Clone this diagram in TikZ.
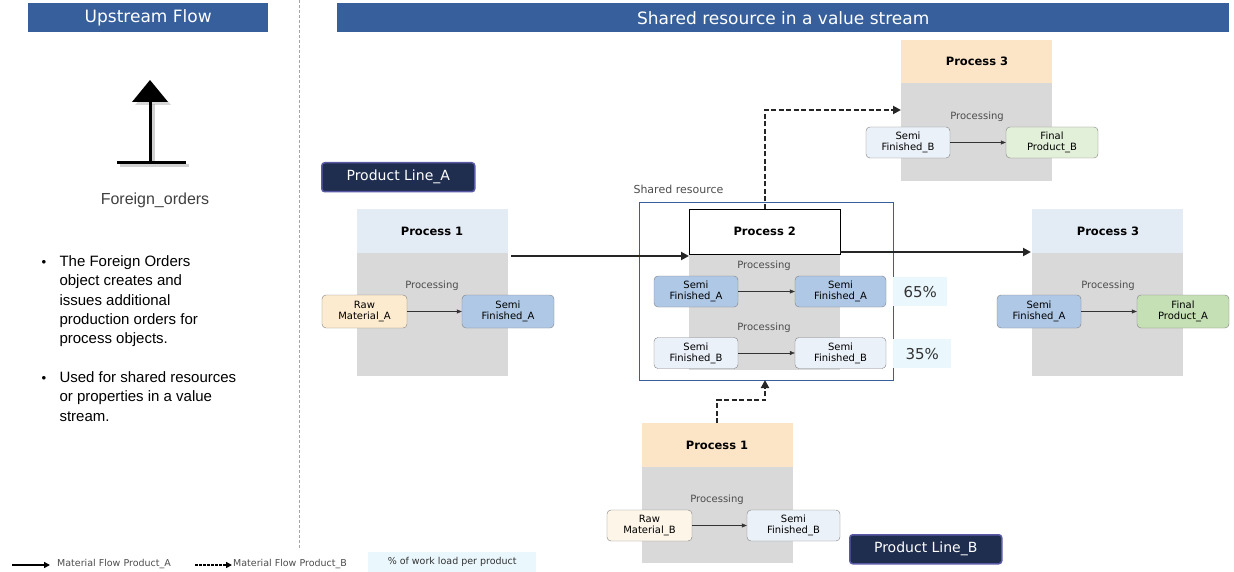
\documentclass[tikz,border=0pt]{standalone}
\usepackage{fontspec}
\setmainfont{DejaVu Sans}
\newfontfamily\arialf{Liberation Sans}
\usetikzlibrary{arrows.meta,shadows}
\definecolor{hdr}{HTML}{365F9C}
\definecolor{navy}{HTML}{1F2D4F}
\definecolor{phead}{HTML}{E3EBF5}
\definecolor{peach}{HTML}{FCE4C6}
\definecolor{pbody}{HTML}{D9D9D9}
\definecolor{semiA}{HTML}{AFC8E6}
\definecolor{semiB}{HTML}{EBF1F9}
\definecolor{rawA}{HTML}{FDEBD0}
\definecolor{rawB}{HTML}{FDF5E8}
\definecolor{finA}{HTML}{C5E0B4}
\definecolor{finB}{HTML}{E2F0D9}
\definecolor{pct}{HTML}{EAF7FD}
\tikzset{
 hdrbox/.style={fill=hdr,text=white,font=\fontsize{17}{19}\selectfont},
 item/.style={draw=gray,rounded corners=4pt,align=center,font=\fontsize{10}{11}\selectfont,inner sep=0pt},
 lbl/.style={font=\fontsize{10}{11}\selectfont,text=black!70},
 ttl/.style={font=\bfseries\fontsize{11.5}{12}\selectfont},
 pl/.style={fill=navy,draw=gray!70!blue,line width=1.5pt,rounded corners=3pt,text=white,font=\fontsize{14}{15}\selectfont},
 flowA/.style={line width=2.4pt,draw=black!85,-{Triangle[length=8pt,width=8pt]}},
 flowB/.style={line width=2.4pt,draw=black!85,dash pattern=on 5pt off 2.5pt,-{Triangle[length=8pt,width=8pt]}},
 thin/.style={draw=black!80,-{Triangle[length=5pt,width=4pt]}},
 pctb/.style={fill=pct,font=\fontsize{15}{16}\selectfont,text=black!80},
 bul/.style={font=\arialf\fontsize{15}{19.3}\selectfont,anchor=north west,align=left}
}
\begin{document}
\begin{tikzpicture}[x=1pt,y=-1pt]
\useasboundingbox (0,0) rectangle (1234,572);
% headers
\node[hdrbox,minimum width=240,minimum height=29,anchor=north west] (h1) at (28,3) {Upstream Flow};
\node[hdrbox,minimum width=892,minimum height=29,anchor=north west] (h2) at (337,3) {Shared resource in a value stream};
\draw[gray!70,line width=1pt,dash pattern=on 3pt off 2pt] (299,0) -- (299,550);
% icon
\fill[black!30,opacity=0.5] (153,84) -- (171,105) -- (135,105) -- cycle;
\fill[black] (150,80) -- (168,102) -- (132,102) -- cycle;
\draw[black!30,line width=3pt,opacity=0.6] (153,104) -- (153,166) (120,166) -- (189,166);
\draw[black,line width=3pt] (150,100) -- (150,163) (117,163) -- (186,163);
\node[font=\arialf\fontsize{16}{17}\selectfont,text=black!75] (fo) at (155,200) {Foreign\_orders};
\node[bul] (b1) at (56,252) {The Foreign Orders\\object creates and\\issues additional\\production orders for\\process objects.};
\node[bul] (b2) at (56,368) {Used for shared resources\\or properties in a value\\stream.};
\node[font=\fontsize{9}{9}\selectfont] (d1) at (44,262) {$\bullet$};
\node[font=\fontsize{9}{9}\selectfont] (d2) at (44,378) {$\bullet$};
% Product lines
\node[pl,minimum width=153,minimum height=29,anchor=north west] (plA) at (321,162) {Product Line\_A};
\node[pl,minimum width=152,minimum height=29,anchor=north west] (plB) at (849,534) {Product Line\_B};
% Process 1 left
\fill[phead] (357,209) rectangle (508,253);
\fill[pbody] (357,253) rectangle (508,376);
\node[ttl] (p1) at (432,231) {Process 1};
\node[lbl] (pr1) at (432,286) {Processing};
\node[item,fill=rawA,minimum width=85,minimum height=33] (rawa) at (364.5,311.5) {Raw\\Material\_A};
\node[item,fill=semiA,minimum width=92,minimum height=33] (sa1) at (508,311.5) {Semi\\Finished\_A};
\draw[thin] (rawa) -- (sa1);
% shared resource
\node[lbl,anchor=west,font=\fontsize{11}{12}\selectfont] (srl) at (630,189) {Shared resource};
\fill[pbody] (689,254) rectangle (840,370);
\node[draw=black,fill=white,minimum width=151,minimum height=45,anchor=north west,ttl] (p2) at (689,209) {Process 2};
\draw[draw=hdr,line width=0.8pt] (639,202) rectangle (893,380);
\coordinate (srb) at (765,380);
\node[lbl] (pr2a) at (764,266) {Processing};
\node[item,fill=semiA,minimum width=84,minimum height=31] (sa2) at (696,291.5) {Semi\\Finished\_A};
\node[item,fill=semiA,minimum width=91,minimum height=31] (sa3) at (840.5,291.5) {Semi\\Finished\_A};
\draw[thin] (sa2) -- (sa3);
\node[lbl] (pr2b) at (764,328) {Processing};
\node[item,fill=semiB,minimum width=84,minimum height=31] (sb2) at (696,353) {Semi\\Finished\_B};
\node[item,fill=semiB,minimum width=91,minimum height=31] (sb3) at (840.5,353) {Semi\\Finished\_B};
\draw[thin] (sb2) -- (sb3);
\node[pctb,minimum width=54,minimum height=29,anchor=north west] (pc1) at (893,277) {65\%};
\node[pctb,minimum width=58,minimum height=29,anchor=north west] (pc2) at (893,339) {35\%};
% Process 3 right
\fill[phead] (1032,209) rectangle (1183,253);
\fill[pbody] (1032,253) rectangle (1183,376);
\node[ttl] (p3) at (1108,231) {Process 3};
\node[lbl] (pr3) at (1108,286) {Processing};
\node[item,fill=semiA,minimum width=84,minimum height=33] (sa4) at (1039,311.5) {Semi\\Finished\_A};
\node[item,fill=finA,minimum width=92,minimum height=33] (fa) at (1183,311.5) {Final\\Product\_A};
\draw[thin] (sa4) -- (fa);
\coordinate (p3in) at (1031,252);
% Process 3 top
\fill[peach] (901,40) rectangle (1052,83);
\fill[pbody] (901,83) rectangle (1052,181);
\node[ttl] (p3t) at (977,61) {Process 3};
\node[lbl] (pr3t) at (977,117) {Processing};
\node[item,fill=semiB,minimum width=84,minimum height=31] (sb4) at (908,142.5) {Semi\\Finished\_B};
\node[item,fill=finB,minimum width=92,minimum height=31] (fb) at (1052,142.5) {Final\\Product\_B};
\draw[thin] (sb4) -- (fb);
\coordinate (p3tin) at (901,110);
% Process 1 bottom
\fill[peach] (642,423) rectangle (793,467);
\fill[pbody] (642,467) rectangle (793,563);
\node[ttl] (p1b) at (717,445) {Process 1};
\node[lbl] (pr1b) at (717,500) {Processing};
\node[item,fill=rawB,minimum width=85,minimum height=31] (rawb) at (649.5,525.5) {Raw\\Material\_B};
\node[item,fill=semiB,minimum width=93,minimum height=31] (sb1) at (793.5,525.5) {Semi\\Finished\_B};
\draw[thin] (rawb) -- (sb1);
\coordinate (p1bout) at (717,423);
% main flows
\coordinate (p1out) at (511,256);
\draw[flowA] (p1out) -- (p2.west |- p1out);
\draw[flowA] (p2.east |- p3in) -- (p3in);
\draw[flowB] (p2.north -| srb) -- (765,110) -- (p3tin);
\draw[flowB] (p1bout) -- (717,400) -- (765,400) -- (srb);
% legend
\coordinate (l1a) at (12,565); \coordinate (l1b) at (50,565);
\coordinate (l2a) at (195,565); \coordinate (l2b) at (232,565);
\draw[line width=2pt,-{Triangle[length=6pt,width=6pt]}] (l1a) -- (l1b);
\draw[line width=2pt,dash pattern=on 2.5pt off 1.5pt,-{Triangle[length=6pt,width=6pt]}] (l2a) -- (l2b);
\node[lbl,anchor=west,font=\fontsize{9.5}{10}\selectfont,inner sep=0pt] (lt1) at (57,564) {Material Flow Product\_A};
\node[lbl,anchor=west,font=\fontsize{9.5}{10}\selectfont,inner sep=0pt] (lt2) at (233,564) {Material Flow Product\_B};
\node[fill=pct,anchor=north west,minimum width=168,minimum height=20,font=\fontsize{9.5}{10}\selectfont,text=black!80] (lt3) at (368,552) {\% of work load per product};
\end{tikzpicture}
\end{document}
